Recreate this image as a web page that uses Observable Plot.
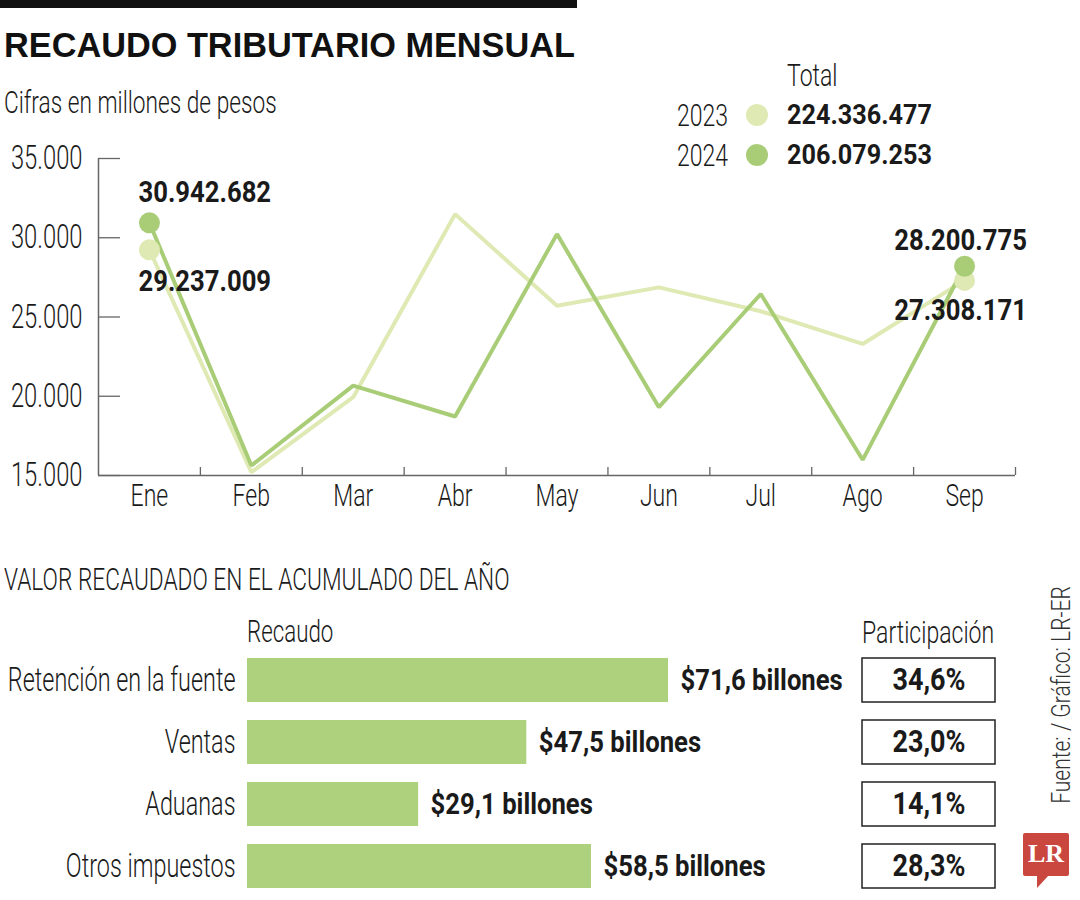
<!DOCTYPE html>
<html>
<head>
<meta charset="utf-8">
<script src="https://cdn.jsdelivr.net/npm/d3@7"></script>
<script src="https://cdn.jsdelivr.net/npm/@observablehq/plot@0.6"></script>
<style>
  body { margin: 0; background: #fff; }
  #wrap { position: relative; width: 1080px; height: 900px; overflow: hidden; background: #fff;
          font-family: Roboto, "Liberation Sans", sans-serif; font-weight: 300; color: #1a1a1a; }
  .abs { position: absolute; white-space: nowrap; }
  .cl { transform: scaleX(0.72); transform-origin: left center; }
  .cr { transform: scaleX(0.72); transform-origin: right center; text-align: right; }
  .bl { font-weight: 700; transform: scaleX(0.885); transform-origin: left center; }
  .plot { position: absolute; }
</style>
</head>
<body>
<div id="wrap">
  <div class="abs" style="left:0;top:0;width:577px;height:8px;background:#111;"></div>
  <div class="abs" style="left:4px;top:25px;font-family:'Liberation Sans',Arial,sans-serif;font-weight:700;font-size:34.3px;line-height:40px;color:#111;">RECAUDO TRIBUTARIO MENSUAL</div>
  <div class="abs cl" style="left:4px;top:85px;font-size:31.5px;line-height:36px;">Cifras en millones de pesos</div>
  <div id="legend"></div>
  <div id="line" class="plot" style="left:0;top:130px;"></div>
  <div class="abs cl" style="left:4px;top:562px;font-size:31.5px;line-height:36px;">VALOR RECAUDADO EN EL ACUMULADO DEL AÑO</div>
  <div class="abs cl" style="left:247px;top:614px;font-size:31px;line-height:36px;">Recaudo</div>
  <div class="abs cl" style="left:862px;top:614px;font-size:32px;line-height:36px;">Participación</div>
  <div id="bars" class="plot" style="left:0;top:640px;"></div>
  <div id="share" class="plot" style="left:860px;top:640px;"></div>
  <div class="abs" style="left:1062px;top:695px;transform:translate(-50%,-50%) rotate(-90deg) scaleX(0.84);font-size:25px;line-height:28px;color:#333;">Fuente: / Gráfico: LR-ER</div>
  <div class="abs" style="left:1023px;top:833px;width:46px;height:43px;background:#c9473f;border-radius:2px;"></div>
  <div class="abs" style="left:1037px;top:875px;width:0;height:0;border-right:12px solid transparent;border-top:13px solid #c9473f;"></div>
  <div class="abs" style="left:1023px;top:836px;width:46px;text-align:center;font-family:'Liberation Serif','DejaVu Serif',serif;font-weight:bold;font-size:26px;line-height:36px;color:#fff;">LR</div>
</div>
<script>
// ---------- Data ----------
const months = ["Ene", "Feb", "Mar", "Abr", "May", "Jun", "Jul", "Ago", "Sep"];
const years = ["2023", "2024"];
const values2023 = [29237009, 15210000, 19940000, 31490000, 25710000, 26870000, 25360000, 23300000, 27308171];
const values2024 = [30942682, 15630000, 20670000, 18720000, 30230000, 19310000, 26450000, 15990000, 28200775];
const totals = [224336477, 206079253];
const yTicks = [15000000, 20000000, 25000000, 30000000, 35000000];

const categories = ["Retención en la fuente", "Ventas", "Aduanas", "Otros impuestos"];
const recaudo = [71.6, 47.5, 29.1, 58.5];
const participacion = [34.6, 23.0, 14.1, 28.3];

// ---------- Styling ----------
const FONT = `Roboto, "Liberation Sans", sans-serif`;
const RS = 0.72;   // horizontal compression, regular text
const BS = 0.885;  // horizontal compression, bold text
const C23 = "#dfe9b4";
const C24 = "#a9cd77";
const BAR = "#add17c";
const AXIS = "#666";
const INK = "#1a1a1a";

const loc = d3.formatLocale({decimal: ",", thousands: ".", grouping: [3], currency: ["$", ""]});
const fmtInt = loc.format(",.0f");
const fmt1 = loc.format(",.1f");

function condense(svg) {
  svg.querySelectorAll("text").forEach(t => {
    const fw = getComputedStyle(t).fontWeight;
    const s = (+fw >= 600 || fw === "bold") ? BS : RS;
    let tr = t.getAttribute("transform");
    if (!tr) {
      const x = +t.getAttribute("x") || 0, y = +t.getAttribute("y") || 0;
      t.setAttribute("x", 0); t.setAttribute("y", 0);
      tr = `translate(${x},${y})`;
    }
    t.setAttribute("transform", `${tr} scale(${s},1)`);
  });
}

// ---------- Legend ----------
const legend = document.getElementById("legend");
legend.innerHTML = `<div class="abs cl" style="left:787px;top:57px;font-size:32px;line-height:36px;">Total</div>` +
  years.map((y, i) => {
    const cy = 115 + i * 40;
    const col = i === 0 ? C23 : C24;
    return `<div class="abs cr" style="left:628px;width:100px;top:${cy - 18}px;font-size:32px;line-height:36px;">${y}</div>` +
      `<div class="abs" style="left:746px;top:${cy - 11}px;width:22px;height:22px;border-radius:50%;background:${col};"></div>` +
      `<div class="abs bl" style="left:787px;top:${cy - 18}px;font-size:28.5px;line-height:36px;">${fmtInt(totals[i])}</div>`;
  }).join("");

// ---------- Line chart ----------
const rows = [];
years.forEach((yr, k) => {
  const vals = k === 0 ? values2023 : values2024;
  months.forEach((m, i) => rows.push({i, month: m, year: yr, v: vals[i]}));
});
const xPos = d => d.i + 0.5;
const end = (yr, i) => rows.filter(d => d.year === yr && d.i === i);
const labelStyle = {fontSize: 29, fontWeight: "bold", fill: INK};

const line = Plot.plot({
  width: 1080, height: 400,
  marginLeft: 98, marginRight: 65, marginTop: 28, marginBottom: 55,
  x: {domain: [0, 9]},
  y: {domain: [15000000, 35000000]},
  color: {domain: years, range: [C23, C24]},
  style: {fontFamily: FONT, fontWeight: 300, background: "transparent", color: INK, overflow: "visible"},
  marks: [
    Plot.axisY({ticks: yTicks, tickSize: -22, tickPadding: 38, tickFormat: d => fmtInt(d / 1000),
                fontSize: 33, stroke: AXIS, strokeWidth: 1.3, label: null}),
    Plot.axisX({ticks: d3.range(1, 10), tickSize: -8, tickFormat: () => "", stroke: AXIS, strokeWidth: 1.3, label: null}),
    Plot.axisX({ticks: months.map((m, i) => i + 0.5), tickSize: 0, tickPadding: 8,
                tickFormat: v => months[Math.floor(v)], fontSize: 32, label: null}),
    Plot.ruleX([0], {y1: yTicks[0], y2: yTicks[yTicks.length - 1], stroke: AXIS, strokeWidth: 1.5}),
    Plot.ruleY([yTicks[0]], {x1: 0, x2: months.length, stroke: AXIS, strokeWidth: 1.5}),
    Plot.line(rows, {x: xPos, y: "v", z: "year", stroke: "year", strokeWidth: 4, strokeLinejoin: "miter"}),
    Plot.dot(rows.filter(d => d.i === 0 || d.i === months.length - 1), {x: xPos, y: "v", fill: "year", r: 10.5}),
    Plot.text(end("2024", 0), {x: xPos, y: "v", text: d => fmtInt(d.v), textAnchor: "start", dx: -11, dy: -30, ...labelStyle}),
    Plot.text(end("2023", 0), {x: xPos, y: "v", text: d => fmtInt(d.v), textAnchor: "start", dx: -11, dy: 32, ...labelStyle}),
    Plot.text(end("2024", 8), {x: xPos, y: "v", text: d => fmtInt(d.v), textAnchor: "middle", dx: -4, dy: -26, ...labelStyle}),
    Plot.text(end("2023", 8), {x: xPos, y: "v", text: d => fmtInt(d.v), textAnchor: "middle", dx: -4, dy: 30, ...labelStyle})
  ]
});
document.getElementById("line").appendChild(line);
condense(line);

// ---------- Bar chart ----------
const barRows = categories.map((c, i) => ({cat: c, v: recaudo[i], p: participacion[i]}));
const yBand = {domain: categories, paddingInner: 0.29, paddingOuter: 0.145};

const bars = Plot.plot({
  width: 860, height: 260,
  marginLeft: 247, marginRight: 25, marginTop: 9, marginBottom: 2,
  x: {domain: [0, 100], axis: null},
  y: yBand,
  style: {fontFamily: FONT, fontWeight: 300, background: "transparent", color: INK, overflow: "visible"},
  marks: [
    Plot.axisY({tickSize: 0, tickPadding: 12, fontSize: 32.5, label: null}),
    Plot.barX(barRows, {x: "v", y: "cat", fill: BAR}),
    Plot.text(barRows, {x: "v", y: "cat", text: d => `$${fmt1(d.v)} billones`, textAnchor: "start", dx: 12,
                        fontSize: 29, fontWeight: "bold", fill: INK})
  ]
});
document.getElementById("bars").appendChild(bars);
condense(bars);

const share = Plot.plot({
  width: 137, height: 260,
  marginLeft: 2, marginRight: 2, marginTop: 9, marginBottom: 2,
  y: {...yBand, axis: null},
  style: {fontFamily: FONT, fontWeight: 300, background: "transparent", color: INK, overflow: "visible"},
  marks: [
    Plot.cell(barRows, {y: "cat", fill: "#fff", stroke: "#222", strokeWidth: 1.5}),
    Plot.text(barRows, {y: "cat", text: d => `${fmt1(d.p)}%`, fontSize: 30.5, fontWeight: "bold", fill: INK})
  ]
});
document.getElementById("share").appendChild(share);
condense(share);
</script>
</body>
</html>
